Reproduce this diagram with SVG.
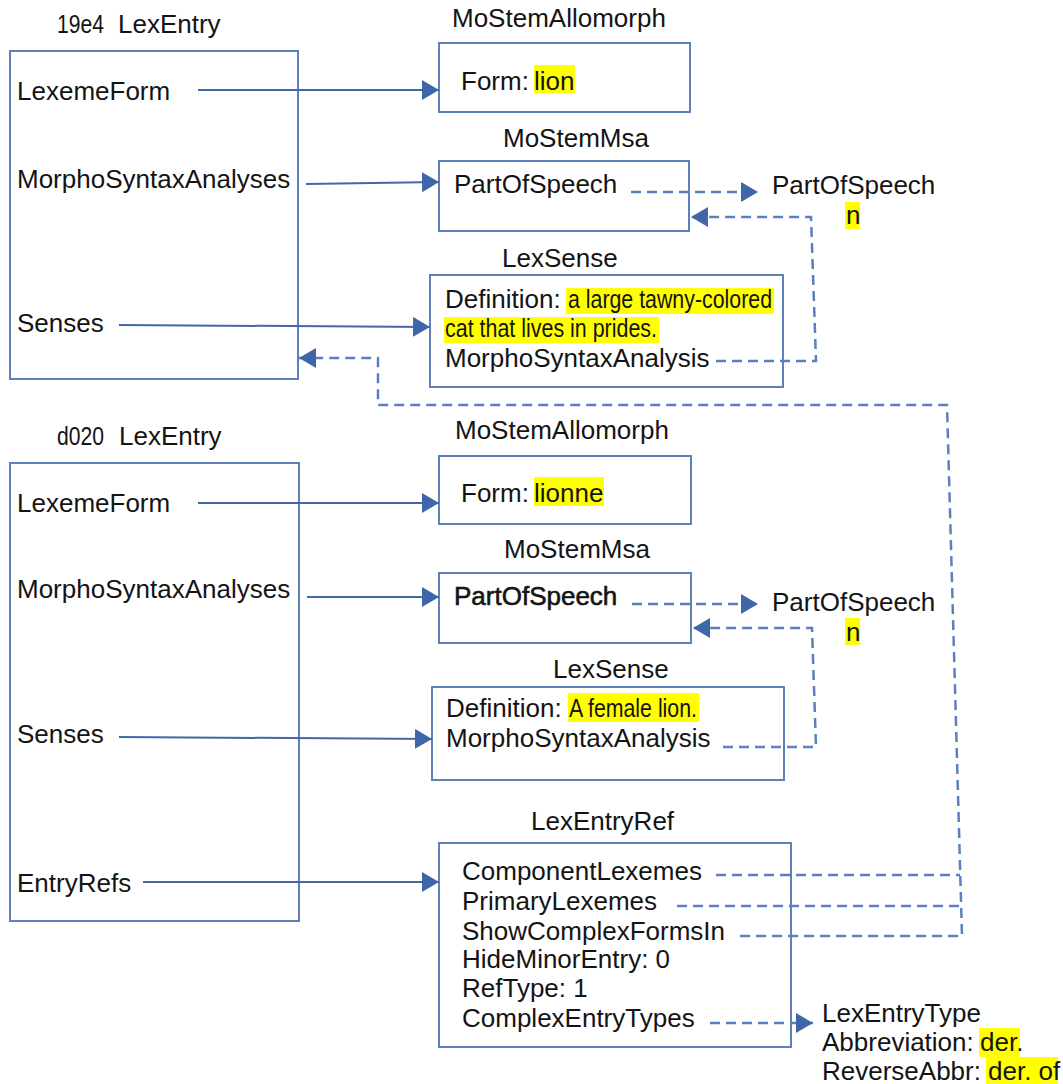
<svg xmlns="http://www.w3.org/2000/svg" width="1063" height="1084" viewBox="0 0 1063 1084">
  <defs>
    <style>
      text { font-family: "Liberation Sans", Arial, sans-serif; font-size: 26px; fill: #141414; }
      .box { fill: #ffffff; stroke: #5f81b9; stroke-width: 2; }
      .solid { fill: none; stroke: #4169a8; stroke-width: 2; }
      .dash { fill: none; stroke: #5a81bd; stroke-width: 2.5; stroke-dasharray: 10 6; }
      .hl { fill: #ffff00; }
      .id { font-size: 25px; }
      .bold { stroke: #141414; stroke-width: 0.6; }
    </style>
    <marker id="arrow" markerUnits="userSpaceOnUse" markerWidth="18" markerHeight="20" refX="17" refY="10" orient="auto">
      <path d="M0,0 L17,10 L0,20 Z" fill="#3e66a8"/>
    </marker>
  </defs>

  <rect width="1063" height="1084" fill="#ffffff"/>

  <!-- first entry: 19e4 -->
  <g id="entry-19e4">
    <text x="57" y="33" class="id" textLength="47" lengthAdjust="spacingAndGlyphs">19e4</text>
    <text x="118" y="33">LexEntry</text>
    <rect class="box" x="10" y="51" width="288" height="328"/>
    <text x="17" y="100">LexemeForm</text>
    <text x="17" y="188">MorphoSyntaxAnalyses</text>
    <text x="17" y="332">Senses</text>
  </g>

  <g id="allomorph-19e4">
    <text x="452" y="27">MoStemAllomorph</text>
    <rect class="box" x="439" y="43" width="251" height="69"/>
    <text x="461" y="90">Form:</text>
    <rect class="hl" x="534" y="65" width="41" height="28"/>
    <text x="534" y="90">lion</text>
  </g>

  <g id="msa-19e4">
    <text x="503" y="147">MoStemMsa</text>
    <rect class="box" x="439" y="161" width="250" height="70"/>
    <text x="454" y="193">PartOfSpeech</text>
  </g>

  <g id="pos-19e4">
    <text x="772" y="194">PartOfSpeech</text>
    <rect class="hl" x="845" y="202" width="15" height="27"/>
    <text x="846" y="224">n</text>
  </g>

  <g id="sense-19e4">
    <text x="502" y="267">LexSense</text>
    <rect class="box" x="430" y="275" width="353" height="112"/>
    <text x="445" y="308">Definition:</text>
    <rect class="hl" x="566" y="288" width="208" height="26"/>
    <text x="568" y="308" textLength="204" lengthAdjust="spacingAndGlyphs">a large tawny-colored</text>
    <rect class="hl" x="444" y="317" width="215" height="26"/>
    <text x="445" y="337" textLength="212" lengthAdjust="spacingAndGlyphs">cat that lives in prides.</text>
    <text x="445" y="367">MorphoSyntaxAnalysis</text>
  </g>

  <!-- second entry: d020 -->
  <g id="entry-d020">
    <text x="57" y="445" class="id" textLength="47" lengthAdjust="spacingAndGlyphs">d020</text>
    <text x="119" y="445">LexEntry</text>
    <rect class="box" x="10" y="463" width="289" height="458"/>
    <text x="17" y="512">LexemeForm</text>
    <text x="17" y="598">MorphoSyntaxAnalyses</text>
    <text x="17" y="743">Senses</text>
    <text x="17" y="892">EntryRefs</text>
  </g>

  <g id="allomorph-d020">
    <text x="455" y="439">MoStemAllomorph</text>
    <rect class="box" x="439" y="456" width="252" height="68"/>
    <text x="461" y="502">Form:</text>
    <rect class="hl" x="534" y="477" width="70" height="29"/>
    <text x="534" y="502">lionne</text>
  </g>

  <g id="msa-d020">
    <text x="504" y="558">MoStemMsa</text>
    <rect class="box" x="439" y="573" width="252" height="70"/>
    <text x="454" y="605" class="bold">PartOfSpeech</text>
  </g>

  <g id="pos-d020">
    <text x="772" y="611">PartOfSpeech</text>
    <rect class="hl" x="845" y="618" width="15" height="27"/>
    <text x="846" y="641">n</text>
  </g>

  <g id="sense-d020">
    <text x="553" y="678">LexSense</text>
    <rect class="box" x="432" y="687" width="352" height="93"/>
    <text x="446" y="717">Definition:</text>
    <rect class="hl" x="568" y="693" width="131" height="29"/>
    <text x="569" y="717" textLength="128" lengthAdjust="spacingAndGlyphs">A female lion.</text>
    <text x="446" y="747">MorphoSyntaxAnalysis</text>
  </g>

  <g id="entryref-d020">
    <text x="531" y="830">LexEntryRef</text>
    <rect class="box" x="439" y="843" width="352" height="204"/>
    <text x="462" y="880">ComponentLexemes</text>
    <text x="462" y="910">PrimaryLexemes</text>
    <text x="462" y="940">ShowComplexFormsIn</text>
    <text x="462" y="968">HideMinorEntry: 0</text>
    <text x="462" y="997">RefType: 1</text>
    <text x="462" y="1027">ComplexEntryTypes</text>
  </g>

  <g id="entrytype">
    <text x="822" y="1022">LexEntryType</text>
    <text x="822" y="1051">Abbreviation:</text>
    <rect class="hl" x="979" y="1028" width="41" height="29"/>
    <text x="980" y="1051">der.</text>
    <text x="822" y="1080">ReverseAbbr:</text>
    <rect class="hl" x="986" y="1057" width="72" height="27"/>
    <text x="988" y="1080">der. of</text>
  </g>

  <!-- connectors -->
  <g id="connectors">
    <!-- owning references (solid) -->
    <line class="solid" x1="198" y1="90" x2="439" y2="90" marker-end="url(#arrow)"/>
    <line class="solid" x1="306" y1="184" x2="439" y2="182" marker-end="url(#arrow)"/>
    <line class="solid" x1="119" y1="325" x2="430" y2="327" marker-end="url(#arrow)"/>
    <line class="solid" x1="198" y1="503" x2="439" y2="503" marker-end="url(#arrow)"/>
    <line class="solid" x1="307" y1="597" x2="439" y2="597" marker-end="url(#arrow)"/>
    <line class="solid" x1="119" y1="737" x2="432" y2="739" marker-end="url(#arrow)"/>
    <line class="solid" x1="143" y1="882" x2="439" y2="882" marker-end="url(#arrow)"/>

    <!-- part of speech references (dashed) -->
    <line class="dash" x1="631" y1="192" x2="758" y2="192" marker-end="url(#arrow)"/>
    <polyline class="dash" points="716,361 816,361 811,217 691,217" marker-end="url(#arrow)"/>
    <line class="dash" x1="632" y1="604" x2="758" y2="604" marker-end="url(#arrow)"/>
    <polyline class="dash" points="723,747 816,747 812,628 693,628" marker-end="url(#arrow)"/>

    <!-- component / primary / show-in references back to 19e4 -->
    <polyline class="dash" points="716,875 960,875"/>
    <polyline class="dash" points="677,906 961,906"/>
    <polyline class="dash" points="740,936 962,936 947,405 378,405 378,358 299,358" marker-end="url(#arrow)"/>

    <!-- complex entry types -->
    <line class="dash" x1="710" y1="1023" x2="813" y2="1023" marker-end="url(#arrow)"/>
  </g>
</svg>
